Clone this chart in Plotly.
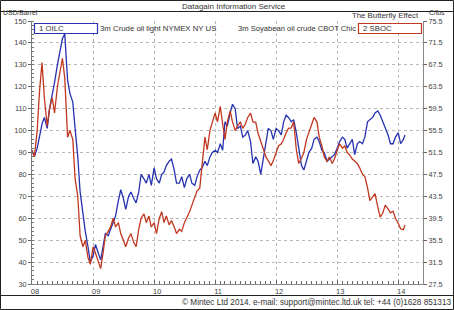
import plotly.graph_objects as go

# ---------------- data ----------------
years = [2008, 2009, 2010, 2011, 2012, 2013]
dates = []
for yr in years:
    for m in range(1, 13):
        dates.append(f"{yr}-{m:02d}-01")
        dates.append(f"{yr}-{m:02d}-15")
dates += ["2014-01-01", "2014-01-15", "2014-02-01", "2014-02-10"]

# 3m Crude oil light NYMEX (USD/Barrel) - semi-monthly readings
oilc = [
    # 2008
    91, 88, 92, 97, 103, 106, 101, 110, 116, 122, 130, 136,
    142, 144, 123, 117, 113, 101, 88, 72, 62, 54, 47, 40,
    # 2009
    43, 48, 44, 41, 47, 53, 52, 55, 58, 61, 68, 73,
    69, 64, 70, 72, 69, 67, 72, 80, 78, 76, 80, 75,
    # 2010
    83, 78, 76, 80, 81, 84, 86, 87, 82, 76, 76, 79,
    74, 78, 80, 76, 75, 79, 82, 83, 86, 84, 88, 90,
    # 2011
    91, 90, 94, 91, 104, 102, 108, 112, 110, 101, 102, 97,
    98, 100, 95, 85, 88, 86, 80, 86, 94, 101, 100, 96,
    # 2012
    101, 100, 98, 104, 107, 106, 104, 105, 99, 92, 84, 82,
    86, 90, 92, 96, 97, 95, 91, 90, 86, 87, 88, 89,
    # 2013
    92, 95, 97, 96, 92, 94, 96, 89, 94, 95, 94, 97,
    104, 105, 106, 108, 109, 107, 104, 101, 98, 94, 94, 97,
    # 2014
    99, 94, 96, 98,
]

# 3m Soyabean oil crude CBOT (c/lbs)
sboc = [
    # 2008
    51.9, 50.7, 55.5, 62.7, 67.9, 61.5, 56.3, 59.5, 61.5, 58.7, 63.5, 65.9,
    68.7, 65.1, 54.3, 55.5, 53.9, 46.7, 43.5, 36.3, 34.3, 35.5, 32.3, 31.1,
    # 2009
    34.3, 33.1, 31.5, 30.3, 33.1, 36.3, 37.1, 37.9, 39.5, 37.9, 38.7, 36.7,
    35.5, 34.3, 35.9, 36.7, 35.1, 34.3, 37.5, 39.5, 40.3, 38.7, 39.9, 37.9,
    # 2010
    38.7, 36.7, 39.5, 40.7, 38.7, 39.9, 38.3, 39.1, 37.9, 36.7, 37.5, 37.1,
    38.7, 39.5, 40.7, 41.9, 43.5, 44.5, 45.0, 49.5, 54.3, 52.0, 55.5, 57.0,
    # 2011
    58.7, 57.1, 59.9, 56.7, 53.9, 57.1, 59.1, 57.1, 55.5, 56.3, 57.1, 55.9,
    56.7, 57.9, 58.7, 57.1, 57.0, 55.0, 53.5, 52.0, 50.7, 50.0, 49.1, 50.0,
    # 2012
    51.5, 52.7, 53.1, 53.9, 55.1, 55.9, 56.0, 57.1, 52.0, 49.5, 50.5, 51.5,
    53.9, 55.1, 56.7, 57.9, 57.1, 54.3, 52.7, 50.7, 49.9, 50.7, 49.5, 50.3,
    # 2013
    51.9, 53.1, 52.3, 52.7, 51.5, 51.1, 50.3, 49.9, 49.5, 48.7, 47.5, 47.1,
    45.1, 42.7, 43.5, 44.0, 41.5, 39.7, 40.5, 41.9, 41.2, 40.5, 40.8, 39.5,
    # 2014
    38.6, 37.6, 37.4, 38.3,
]

year_ticks = ["2008-01-01", "2009-01-01", "2010-01-01", "2011-01-01",
              "2012-01-01", "2013-01-01", "2014-01-01"]
year_labels = ["08", "09", "10", "11", "12", "13", "14"]
left_ticks = [30, 40, 50, 60, 70, 80, 90, 100, 110, 120, 130, 140, 150]
right_ticks = [27.5, 31.5, 35.5, 39.5, 43.5, 47.5, 51.5, 55.5, 59.5, 63.5, 67.5, 71.5, 75.5]

# ---------------- layout helpers ----------------
W, H = 454, 310
L, R, T, B = 32, 423, 21, 284


def PX(x):
    return (x - L) / (R - L)


def PY(y):
    return (B - y) / (B - T)


BLUE = "#2632b0"
RED = "#c2371f"
FONT = "Liberation Sans, Arial, sans-serif"
TXT = "#333333"

fig = go.Figure()
fig.add_trace(go.Scatter(x=dates, y=oilc, mode="lines", line=dict(color=BLUE, width=1.3),
                         name="1 OILC", yaxis="y"))
fig.add_trace(go.Scatter(x=dates, y=sboc, mode="lines", line=dict(color=RED, width=1.3),
                         name="2 SBOC", yaxis="y2"))

fig.update_layout(
    width=W, height=H, autosize=False,
    margin=dict(l=L, r=W - R, t=T, b=H - B),
    paper_bgcolor="white", plot_bgcolor="white",
    showlegend=False,
    font=dict(family=FONT, size=7.5, color=TXT),
    xaxis=dict(
        type="date", range=["2008-01-01", "2014-05-29"],
        tickvals=year_ticks, ticktext=year_labels, ticklabelshift=3,
        showgrid=True, gridcolor="#b8b8b8", griddash="dot", gridwidth=1,
        showline=True, linecolor="#888888", linewidth=1,
        ticks="inside", ticklen=4, tickcolor="#666666",
        minor=dict(dtick="M1", ticks="inside", ticklen=3, tickcolor="#666666", showgrid=False),
        zeroline=False, tickfont=dict(size=7.5, color="#444"),
    ),
    yaxis=dict(
        range=[30, 150], tickvals=left_ticks,
        showgrid=True, gridcolor="#b8b8b8", griddash="dot", gridwidth=1,
        showline=True, linecolor="#777777", linewidth=1,
        ticks="outside", ticklen=3, tickcolor="#666666",
        minor=dict(dtick=2, ticks="inside", ticklen=2, tickcolor="#777777", showgrid=False),
        zeroline=False, tickfont=dict(size=7.3, color="#444"),
    ),
    yaxis2=dict(
        range=[27.5, 75.5], tickvals=right_ticks, ticktext=[f"{v:.1f}" for v in right_ticks],
        overlaying="y", side="right", showgrid=False,
        showline=True, linecolor="#888888", linewidth=1,
        ticks="outside", ticklen=3, tickcolor="#666666",
        zeroline=False, tickfont=dict(size=7.3, color="#444"),
    ),
)

shapes = [
    # outer frame
    dict(type="rect", xref="paper", yref="paper", x0=PX(0.5), x1=PX(453.5), y0=PY(309.5), y1=PY(0.5),
         line=dict(color="#222222", width=1)),
    # title separator
    dict(type="line", xref="paper", yref="paper", x0=PX(0.5), x1=PX(453.5), y0=PY(11.5), y1=PY(11.5),
         line=dict(color="#222222", width=1)),
    # footer separator
    dict(type="line", xref="paper", yref="paper", x0=PX(0.5), x1=PX(453.5), y0=PY(295.5), y1=PY(295.5),
         line=dict(color="#222222", width=1)),
    # legend boxes
    dict(type="rect", xref="paper", yref="paper", x0=PX(34.5), x1=PX(97.5), y0=PY(33.5), y1=PY(23.5),
         line=dict(color=BLUE, width=1.2), fillcolor="white", layer="above"),
    dict(type="rect", xref="paper", yref="paper", x0=PX(358.5), x1=PX(421.5), y0=PY(33.5), y1=PY(23.5),
         line=dict(color=RED, width=1.2), fillcolor="white", layer="above"),
]
fig.update_layout(shapes=shapes)


def ann(text, x, y, xanchor="left", size=7.8, color=TXT, yanchor="middle"):
    fig.add_annotation(text=text, xref="paper", yref="paper", x=PX(x), y=PY(y),
                       xanchor=xanchor, yanchor=yanchor, showarrow=False,
                       font=dict(family=FONT, size=size, color=color), borderpad=0)


ann("Datagain Information Service", 234, 6, xanchor="center", size=8)
ann("USD/Barrel", 2, 17.2, size=6.8, yanchor="bottom")
ann("The Butterfly Effect", 420, 15.5, xanchor="right")
ann("C/lbs", 428, 16.8, size=6.8, yanchor="bottom")
ann("1 OILC", 38, 28.5)
ann("3m Crude oil light NYMEX NY US", 99, 28.5)
ann("3m Soyabean oil crude CBOT Chic", 237, 28.5, size=7.6)
ann("2 SBOC", 362, 28.5)
ann("© Mintec Ltd 2014. e-mail: support@mintec.ltd.uk tel: +44 (0)1628 851313", 452, 302,
    xanchor="right", size=8.2)

fig.write_html("out.html")
